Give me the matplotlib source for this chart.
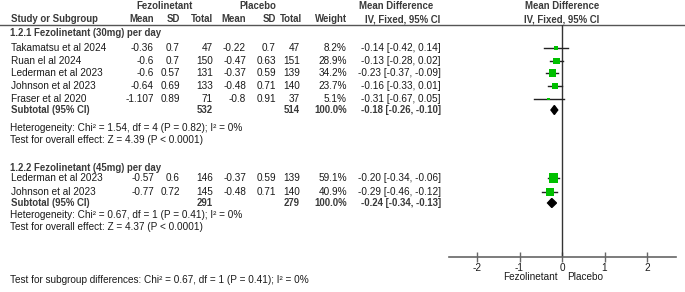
import matplotlib
matplotlib.use("Agg")
import matplotlib.pyplot as plt
from matplotlib.patches import Polygon

plt.rcParams['font.family'] = ['Liberation Sans', 'DejaVu Sans']

# ---- data ----
studies1 = ["Takamatsu et al 2024", "Ruan el al 2024", "Lederman et al 2023",
            "Johnson et al 2023", "Fraser et al 2020"]
fez_mean1 = [-0.36, -0.6, -0.6, -0.64, -1.107]
fez_sd1 = [0.7, 0.7, 0.57, 0.69, 0.89]
fez_n1 = [47, 150, 131, 133, 71]
pla_mean1 = [-0.22, -0.47, -0.37, -0.48, -0.8]
pla_sd1 = [0.7, 0.63, 0.59, 0.71, 0.91]
pla_n1 = [47, 151, 139, 140, 37]
weight1 = [8.2, 28.9, 34.2, 23.7, 5.1]
md1 = [-0.14, -0.13, -0.23, -0.16, -0.31]
lo1 = [-0.42, -0.28, -0.37, -0.33, -0.67]
hi1 = [0.14, 0.02, -0.09, 0.01, 0.05]
sub1 = {"fez_n": 532, "pla_n": 514, "md": -0.18, "lo": -0.26, "hi": -0.10}

studies2 = ["Lederman et al 2023", "Johnson et al 2023"]
fez_mean2 = [-0.57, -0.77]
fez_sd2 = [0.6, 0.72]
fez_n2 = [146, 145]
pla_mean2 = [-0.37, -0.48]
pla_sd2 = [0.59, 0.71]
pla_n2 = [139, 140]
weight2 = [59.1, 40.9]
md2 = [-0.20, -0.29]
lo2 = [-0.34, -0.46]
hi2 = [-0.06, -0.12]
sub2 = {"fez_n": 291, "pla_n": 279, "md": -0.24, "lo": -0.34, "hi": -0.13}

xticks = [-2, -1, 0, 1, 2]

W, H = 685, 292
fig = plt.figure(figsize=(W / 100, H / 100), dpi=100)
bg = fig.add_axes([0, 0, 1, 1])
bg.set_xlim(0, W)
bg.set_ylim(H, 0)
bg.axis('off')

FS = 7.2
FSB = 6.9
TXT = '#1a1a1a'
HDR = '#3a3a3a'

def t(x, y, s, ha='left', bold=False, color=None):
    bg.text(x, y, s, ha=ha, va='center', fontsize=FSB if bold else FS,
            fontweight='bold' if bold else 'normal',
            color=color if color else (HDR if bold else TXT))

# header
t(165, 6, "Fezolinetant", ha='center', bold=True)
t(258, 6, "Placebo", ha='center', bold=True)
t(396, 6, "Mean Difference", ha='center', bold=True)
t(562, 6, "Mean Difference", ha='center', bold=True)
t(11, 19, "Study or Subgroup", bold=True)
t(154, 19, "Mean", ha='right', bold=True)
t(180, 19, "SD", ha='right', bold=True)
t(213, 19, "Total", ha='right', bold=True)
t(246, 19, "Mean", ha='right', bold=True)
t(276, 19, "SD", ha='right', bold=True)
t(302, 19, "Total", ha='right', bold=True)
t(347, 19, "Weight", ha='right', bold=True)
t(403, 19, "IV, Fixed, 95% CI", ha='center', bold=True)
t(562, 19, "IV, Fixed, 95% CI", ha='center', bold=True)
bg.plot([0, W], [25, 25], color='#555555', lw=1)

# forest axes: x in MD units, y in pixel rows
AX_L, AX_R, AX_TOP, AX_BOT = 449, 676, 25, 257
X0, SCALE = 562, 42.5
fa = fig.add_axes([AX_L / W, (H - AX_BOT) / H, (AX_R - AX_L) / W, (AX_BOT - AX_TOP) / H])
fa.patch.set_alpha(0)
fa.set_xlim((AX_L - X0) / SCALE, (AX_R - X0) / SCALE)
fa.set_ylim(AX_BOT, AX_TOP)
for s in ['top', 'right', 'left']:
    fa.spines[s].set_visible(False)
fa.spines['bottom'].set_color('#666666')
fa.spines['bottom'].set_linewidth(1.2)
fa.set_yticks([])
fa.set_xticks(xticks)
fa.set_xticklabels([str(v) for v in xticks])
fa.tick_params(axis='x', direction='inout', length=7, width=1, color='#666666',
               labelsize=FS, labelcolor=TXT, pad=1)
fa.axvline(0, color='#333333', lw=1)

def fmt(v):
    return f"{v:.2f}"

def group(title, y_title, rows_y, names, fm, fs, fn, pm, ps, pn, w, md, lo, hi, sub, y_sub,
          het, y_het, ovr, y_ovr):
    t(10, y_title, title, bold=True)
    for i, y in enumerate(rows_y):
        t(11, y, names[i])
        t(154, y, str(fm[i]), ha='right')
        t(180, y, str(fs[i]), ha='right')
        t(213, y, str(fn[i]), ha='right')
        t(246, y, str(pm[i]), ha='right')
        t(276, y, str(ps[i]), ha='right')
        t(300, y, str(pn[i]), ha='right')
        t(347, y, f"{w[i]:.1f}%", ha='right')
        t(441, y, f"{fmt(md[i])} [{fmt(lo[i])}, {fmt(hi[i])}]", ha='right')
        fa.plot([lo[i], hi[i]], [y, y], color='#222222', lw=1, zorder=2)
        side = 1.25 * w[i] ** 0.5 * 0.72
        fa.scatter([md[i]], [y], marker='s', s=side ** 2, color='#00c000',
                   edgecolors='none', zorder=3)
    t(11, y_sub, "Subtotal (95% CI)", bold=True)
    t(213, y_sub, str(sub["fez_n"]), ha='right', bold=True)
    t(300, y_sub, str(sub["pla_n"]), ha='right', bold=True)
    t(347, y_sub, "100.0%", ha='right', bold=True)
    t(441, y_sub, f"{fmt(sub['md'])} [{fmt(sub['lo'])}, {fmt(sub['hi'])}]", ha='right', bold=True)
    fa.add_patch(Polygon([[sub['lo'], y_sub], [sub['md'], y_sub - 4.5],
                          [sub['hi'], y_sub], [sub['md'], y_sub + 4.5]],
                         closed=True, color='black', zorder=3))
    t(10, y_het, het)
    t(10, y_ovr, ovr)

group("1.2.1 Fezolinetant (30mg) per day", 33, [48, 61, 73, 86, 99],
      studies1, fez_mean1, fez_sd1, fez_n1, pla_mean1, pla_sd1, pla_n1,
      weight1, md1, lo1, hi1, sub1, 110,
      "Heterogeneity: Chi² = 1.54, df = 4 (P = 0.82); I² = 0%", 128,
      "Test for overall effect: Z = 4.39 (P < 0.0001)", 140)

group("1.2.2 Fezolinetant (45mg) per day", 168, [178, 192],
      studies2, fez_mean2, fez_sd2, fez_n2, pla_mean2, pla_sd2, pla_n2,
      weight2, md2, lo2, hi2, sub2, 203,
      "Heterogeneity: Chi² = 0.67, df = 1 (P = 0.41); I² = 0%", 215,
      "Test for overall effect: Z = 4.37 (P < 0.0001)", 227)

t(10, 280, "Test for subgroup differences: Chi² = 0.67, df = 1 (P = 0.41); I² = 0%")
t(558, 277, "Fezolinetant", ha='right')
t(567, 277, "Placebo", ha='left')

fig.savefig("out.png", dpi=100)
